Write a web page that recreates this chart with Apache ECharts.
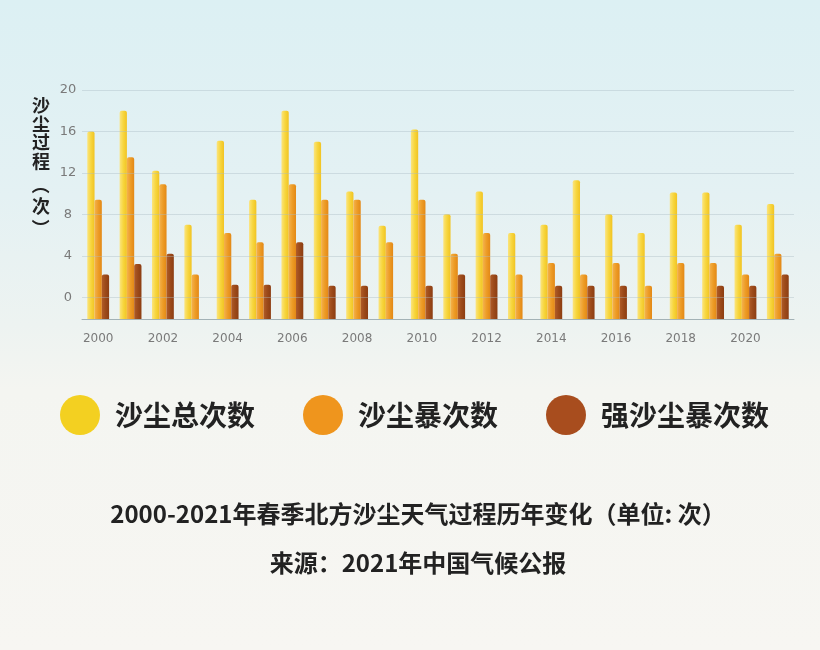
<!DOCTYPE html>
<html>
<head>
<meta charset="utf-8">
<script src="https://cdn.jsdelivr.net/npm/echarts@6/dist/echarts.min.js"></script>
<style>
  html, body { margin: 0; padding: 0; }
  #chart {
    width: 820px; height: 650px;
    background: linear-gradient(180deg, #dcf0f3 0%, #e4f1f3 30%, #edf3f1 50%, #f4f5f1 60%, #f7f6f2 100%);
  }
</style>
</head>
<body>
<div id="chart"></div>
<script>
const years = ['2000','2001','2002','2003','2004','2005','2006','2007','2008','2009','2010',
               '2011','2012','2013','2014','2015','2016','2017','2018','2019','2020','2021'];
const totalDust = [16, 18, 12.2, 7, 15.1, 9.4, 18, 15, 10.2, 6.9, 16.2,
                   8, 10.2, 6.2, 7, 11.3, 8, 6.2, 10.1, 10.1, 7, 9];
const sandstorm = [9.4, 13.5, 10.9, 2.2, 6.2, 5.3, 10.9, 9.4, 9.4, 5.3, 9.4,
                   4.2, 6.2, 2.2, 3.3, 2.2, 3.3, 1.1, 3.3, 3.3, 2.2, 4.2];
const strongSandstorm = [2.2, 3.2, 4.2, null, 1.2, 1.2, 5.3, 1.1, 1.1, null, 1.1,
                         2.2, 2.2, null, 1.1, 1.1, 1.1, null, null, 1.1, 1.1, 2.2];
const yTicks = [0, 4, 8, 12, 16, 20];
const seriesNames = ['沙尘总次数', '沙尘暴次数', '强沙尘暴次数'];

const Y_MIN = -2.1, Y_MAX = 20;

function grad(stops) {
  return { type: 'linear', x: 0, y: 0, x2: 1, y2: 0,
           colorStops: stops.map((c, i) => ({ offset: i / (stops.length - 1), color: c })) };
}
const barColors = [
  grad(['#fbe47e', '#f7d63e', '#f1c322']),
  grad(['#f4b24e', '#ed9c26', '#e38816']),
  grad(['#b05c28', '#9c4a1a', '#8c3d12'])
];
const legendColors = ['#f3d021', '#ef951d', '#a84d1e'];

function makeRender(slot) {
  return function (params, api) {
    const v = api.value(1);
    if (v == null || isNaN(v)) return null;
    const cat = api.value(0);
    const top = api.coord([cat, v]);
    const base = api.coord([cat, Y_MIN]);
    const band = api.size([1, 0])[0];
    const w = band * 0.225;
    const x = top[0] - 1.5 * w + slot * w;
    return {
      type: 'rect',
      shape: { x: x, y: top[1], width: w, height: base[1] - top[1], r: [2, 2, 0, 0] },
      style: api.style()
    };
  };
}

const dataSets = [totalDust, sandstorm, strongSandstorm];
const cjk = '"Noto Sans CJK SC", sans-serif';

const chart = echarts.init(document.getElementById('chart'), null, { renderer: 'canvas' });
chart.setOption({
  animation: false,
  backgroundColor: 'transparent',
  textStyle: { fontFamily: '"Noto Sans CJK SC", "Noto Sans", sans-serif' },
  grid: { left: 82, right: 26, top: 90, bottom: 331, containLabel: false },
  legend: {
    left: 55, top: 390,
    icon: 'circle',
    itemWidth: 40, itemHeight: 40,
    itemGap: 48,
    textStyle: { fontSize: 28, fontWeight: 'bold', color: '#222', padding: [0, 0, 0, 10],
                 fontFamily: cjk },
    data: seriesNames.map((n, i) => ({ name: n, itemStyle: { color: legendColors[i] } }))
  },
  xAxis: {
    type: 'category',
    data: years,
    axisLine: { onZero: false, lineStyle: { color: '#a3b2b6', width: 1 } },
    axisTick: { show: false },
    axisLabel: { interval: 1, color: '#7a7a7a', fontSize: 12, margin: 14,
                 fontFamily: '"DejaVu Sans", sans-serif' },
    splitLine: { show: false }
  },
  yAxis: {
    type: 'value',
    min: Y_MIN, max: Y_MAX,
    axisLine: { show: false },
    axisTick: { show: false },
    splitLine: { show: false },
    axisLabel: {
      customValues: yTicks,
      color: '#7a7a7a', fontSize: 13, align: 'center', margin: 14,
      fontFamily: '"DejaVu Sans", sans-serif'
    }
  },
  series: [
    {
      type: 'line', name: 'grid', data: [], silent: true,
      markLine: {
        silent: true, symbol: ['none', 'none'], label: { show: false },
        lineStyle: { color: 'rgba(170,188,194,0.4)', type: 'solid', width: 1 },
        data: yTicks.map(v => ({ yAxis: v }))
      }
    }
  ].concat(seriesNames.map((name, s) => ({
    type: 'custom',
    name: name,
    renderItem: makeRender(s),
    encode: { x: 0, y: 1 },
    itemStyle: { color: barColors[s] },
    data: dataSets[s].map((v, i) => [i, v])
  }))),
  graphic: [
    {
      type: 'text', left: 32, top: 96,
      style: { text: '沙\n尘\n过\n程', fontSize: 18, fontWeight: 'bold', fill: '#222',
               lineHeight: 18.5, fontFamily: cjk }
    },
    {
      type: 'text', x: 41, y: 185, rotation: -Math.PI / 2,
      style: { text: '（', fontSize: 18, fontWeight: 'bold', fill: '#222',
               align: 'center', verticalAlign: 'middle', fontFamily: cjk }
    },
    {
      type: 'text', x: 41, y: 206,
      style: { text: '次', fontSize: 18, fontWeight: 'bold', fill: '#222',
               align: 'center', verticalAlign: 'middle', fontFamily: cjk }
    },
    {
      type: 'text', x: 41, y: 228, rotation: -Math.PI / 2,
      style: { text: '）', fontSize: 18, fontWeight: 'bold', fill: '#222',
               align: 'center', verticalAlign: 'middle', fontFamily: cjk }
    },
    {
      type: 'text', x: 418, y: 514,
      style: { text: '2000-2021年春季北方沙尘天气过程历年变化（单位: 次）', fontSize: 24,
               fontWeight: 'bold', fill: '#222', align: 'center', verticalAlign: 'middle',
               fontFamily: cjk }
    },
    {
      type: 'text', x: 418, y: 563,
      style: { text: '来源：2021年中国气候公报', fontSize: 24,
               fontWeight: 'bold', fill: '#222', align: 'center', verticalAlign: 'middle',
               fontFamily: cjk }
    }
  ]
});
</script>
</body>
</html>
